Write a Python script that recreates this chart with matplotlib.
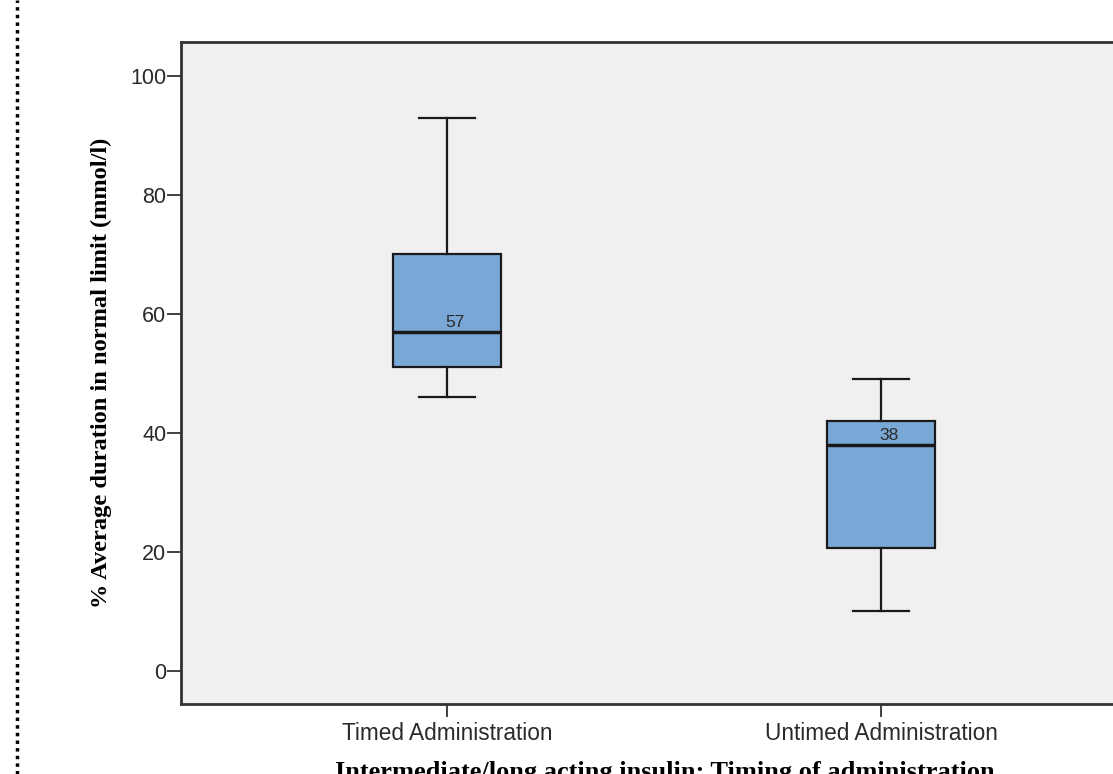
import matplotlib
matplotlib.use("Agg")
import matplotlib.pyplot as plt
from matplotlib.lines import Line2D

categories = ["Timed Administration", "Untimed Administration"]
whisker_low = [46, 10]
q1 = [51, 20.7]
median = [57, 38]
q3 = [70, 42]
whisker_high = [93, 49]
yticks = [0, 20, 40, 60, 80, 100]

fig = plt.figure(figsize=(11.13, 7.74), dpi=100)
fig.patch.set_facecolor("white")
ax = fig.add_axes([181/1113, 70/774, 966/1113, 662/774])
ax.set_facecolor("#f0f0f0")

stats = []
for i in range(len(categories)):
    stats.append(dict(med=median[i], q1=q1[i], q3=q3[i],
                      whislo=whisker_low[i], whishi=whisker_high[i],
                      fliers=[], label=categories[i]))
positions = list(range(1, len(categories) + 1))
ax.bxp(stats, positions=positions, widths=0.25, patch_artist=True,
       showfliers=False,
       boxprops=dict(facecolor="#79a8d7", edgecolor="#1a1a1a", linewidth=1.6),
       medianprops=dict(color="#1a1a1a", linewidth=2.5),
       whiskerprops=dict(color="#1a1a1a", linewidth=1.6),
       capprops=dict(color="#1a1a1a", linewidth=1.6),
       capwidths=0.13)

for p, m in zip(positions, median):
    ax.text(p + 0.019, m + 0.8, f"{m:g}", ha="center", va="baseline",
            fontsize=12.5, color="#2a2a2a", family="Liberation Sans")

ax.set_xlim(1 - 266/434, 1 - 266/434 + 966/434)
ax.set_ylim(-5.55, 105.7)
ax.set_yticks(yticks)
ax.set_xticks(positions)
ax.set_xticklabels(categories)
for lab in ax.get_yticklabels():
    lab.set_family("Liberation Sans")
    lab.set_fontsize(15.5)
    lab.set_color("#2a2a2a")
for lab in ax.get_xticklabels():
    lab.set_family("Liberation Sans")
    lab.set_fontsize(16.3)
    lab.set_color("#2a2a2a")
ax.tick_params(axis="y", direction="out", length=10, width=1.3, color="#333333", pad=0.5)
ax.tick_params(axis="x", direction="out", length=9.4, width=1.3, color="#333333", pad=3.5)

for s in ["left", "bottom", "top"]:
    ax.spines[s].set_color("#333333")
    ax.spines[s].set_linewidth(2)
ax.spines["right"].set_visible(False)

ax.set_ylabel("% Average duration in normal limit (mmol/l)", family="Liberation Serif",
              fontweight="bold", fontsize=17.6)
ax.yaxis.set_label_coords(-0.0714, 0.5)
ax.set_xlabel("Intermediate/long acting insulin; Timing of administration",
              family="Liberation Serif", fontweight="bold", fontsize=19)
ax.xaxis.set_label_coords(0.5005, -0.0854)

fig.add_artist(Line2D([17/1113, 17/1113], [0, 1], transform=fig.transFigure,
                      color="black", linestyle=(0, (1, 1.2)), linewidth=2.5))

fig.savefig("out.png", dpi=100)
